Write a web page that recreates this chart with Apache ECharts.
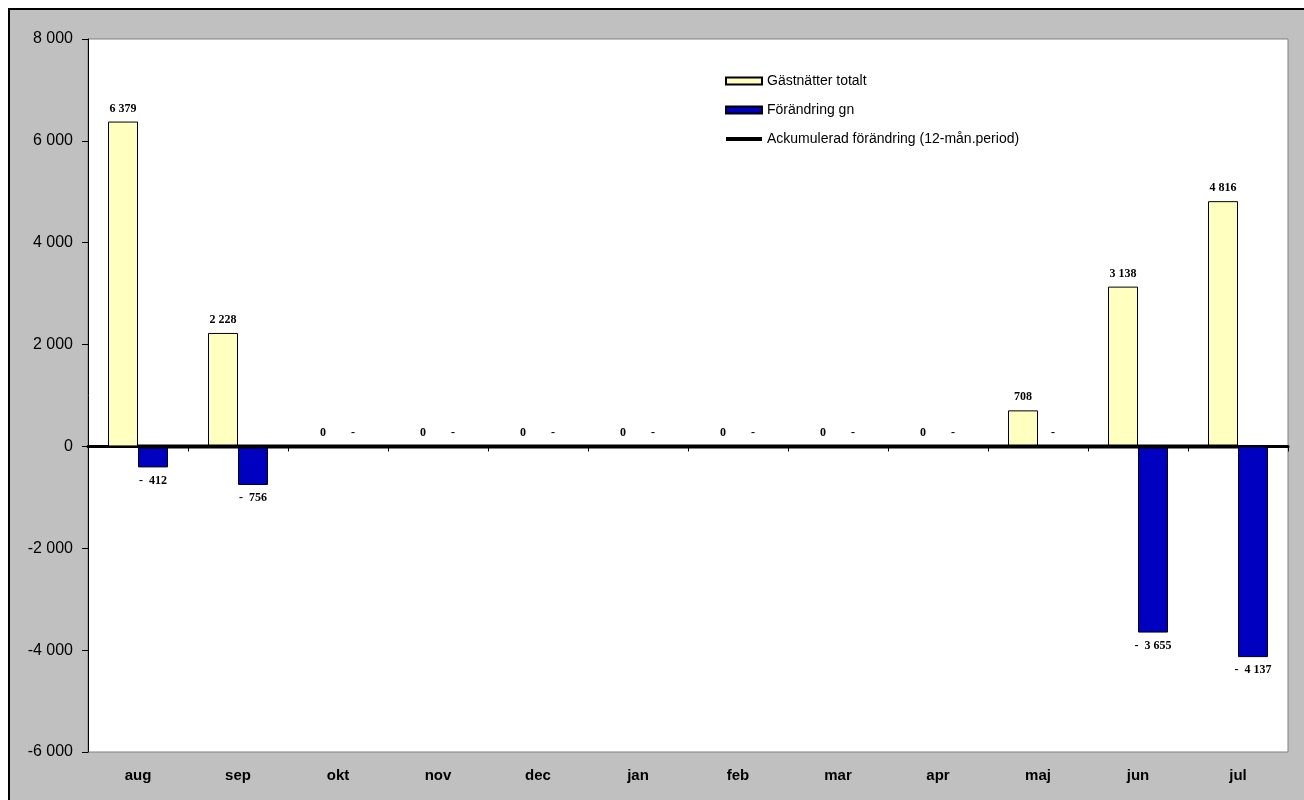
<!DOCTYPE html>
<html><head><meta charset="utf-8">
<script src="https://cdn.jsdelivr.net/npm/echarts@6/dist/echarts.min.js"></script>
<style>
html,body{margin:0;padding:0;background:#fff;width:1304px;height:800px;overflow:hidden;}
#wrap{position:absolute;left:8px;top:8px;width:1296px;height:792px;border-left:2px solid #000;border-top:2px solid #000;background:#C0C0C0;}
#chart{width:1294px;height:790px;}
</style></head>
<body><div id="wrap"><div id="chart"></div></div>
<script>
const categories = ['aug','sep','okt','nov','dec','jan','feb','mar','apr','maj','jun','jul'];
const gastnatter = [6379, 2228, 0, 0, 0, 0, 0, 0, 0, 708, 3138, 4816];
const forandring = [-412, -756, 0, 0, 0, 0, 0, 0, 0, 0, -3655, -4137];
const ackumulerad = [0, 0, 0, 0, 0, 0, 0, 0, 0, 0, 0, 0];
const yTicks = [-6000, -4000, -2000, 0, 2000, 4000, 6000, 8000];

function grp(n){ return String(Math.abs(n)).replace(/\B(?=(\d{3})+(?!\d))/g, ' '); }
function fmtTotal(v){ return v < 0 ? '- ' + grp(v) : grp(v); }
function fmtChange(v){ if (v === 0) return '-'; return v < 0 ? '-  ' + grp(v) : grp(v); }

const labelFont = {fontFamily:'Liberation Serif', fontWeight:'bold', fontSize:12, color:'#000'};

const chart = echarts.init(document.getElementById('chart'));
chart.setOption({
  animation:false,
  backgroundColor:'#C0C0C0',
  grid:{left:78, right:16, top:29, bottom:48, show:true, backgroundColor:'#fff', borderColor:'#808080', borderWidth:1},
  legend:{
    orient:'vertical', left:709, top:59, itemWidth:36, itemHeight:7, itemGap:15,
    textStyle:{fontFamily:'Liberation Sans', fontSize:14, color:'#000'},
    data:[
      {name:'Gästnätter totalt', icon:'rect'},
      {name:'Förändring gn', icon:'rect'},
      {name:'Ackumulerad förändring (12-mån.period)', itemStyle:{opacity:0}, lineStyle:{width:4, color:'#000'}}
    ]
  },
  xAxis:[
    {type:'category', data:categories, position:'bottom',
     axisLine:{onZero:true, lineStyle:{color:'#000', width:3}},
     axisTick:{show:true, length:5, lineStyle:{color:'#000', width:1}},
     axisLabel:{show:false}},
    {type:'category', data:categories, position:'bottom',
     axisLine:{show:false, onZero:false}, axisTick:{show:false},
     axisLabel:{show:true, margin:16, fontFamily:'Liberation Sans', fontWeight:'bold', fontSize:15, color:'#000'}}
  ],
  yAxis:{type:'value', min:yTicks[0], max:yTicks[yTicks.length-1], interval:2000,
    axisLine:{show:true, lineStyle:{color:'#000', width:1}},
    axisTick:{show:true, length:6, lineStyle:{color:'#000'}},
    splitLine:{show:false},
    axisLabel:{margin:15, fontFamily:'Liberation Sans', fontSize:16, color:'#000',
      formatter:v => v < 0 ? '-' + grp(v) : grp(v)}},
  series:[
    {name:'Gästnätter totalt', type:'bar', xAxisIndex:0, barGap:'0%', barCategoryGap:'40%',
     itemStyle:{color:'#FFFFC0', borderColor:'#000', borderWidth:1},
     label:Object.assign({show:true, position:'top', distance:7, formatter:p => fmtTotal(p.value)}, labelFont),
     data:gastnatter, z:2},
    {name:'Förändring gn', type:'bar', xAxisIndex:0,
     itemStyle:{color:'#0000C0', borderColor:'#000', borderWidth:1},
     label:Object.assign({show:true, distance:7, formatter:p => fmtChange(p.value)}, labelFont),
     data:forandring.map(v => ({value:v, label:{position: v < 0 ? 'bottom' : 'top'}})), z:2},
    {name:'Ackumulerad förändring (12-mån.period)', type:'line', xAxisIndex:0, symbol:'none',
     lineStyle:{color:'#000', width:4}, itemStyle:{color:'#000'}, data:ackumulerad, z:3}
  ]
});
</script></body></html>
